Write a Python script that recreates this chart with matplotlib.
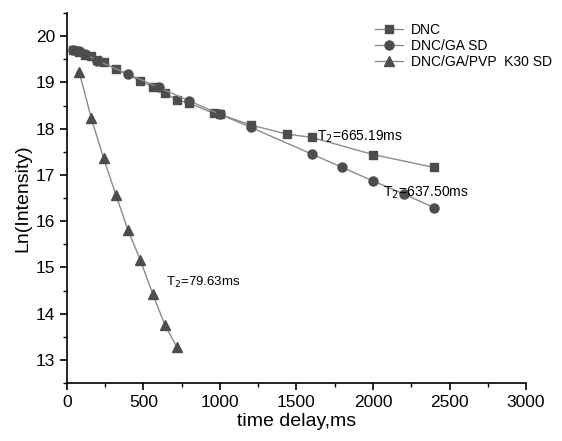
import matplotlib.pyplot as plt
import numpy as np

plt.rcParams['font.family'] = ['Liberation Sans', 'DejaVu Sans']

# DNC
t_dnc = [40, 80, 120, 160, 200, 240, 320, 480, 560, 640, 720, 800, 960, 1000, 1200, 1440, 1600, 2000, 2400]
y_dnc = [19.70, 19.65, 19.60, 19.57, 19.49, 19.43, 19.29, 19.03, 18.90, 18.77, 18.62, 18.55, 18.33, 18.31, 18.08, 17.88, 17.81, 17.44, 17.16]

# DNC/GA SD
t_ga = [40, 80, 120, 200, 400, 600, 800, 1000, 1200, 1600, 1800, 2000, 2200, 2400]
y_ga = [19.71, 19.67, 19.62, 19.47, 19.18, 18.89, 18.60, 18.31, 18.03, 17.45, 17.16, 16.87, 16.59, 16.29]

# DNC/GA/PVP K30 SD
t_pvp = [80, 160, 240, 320, 400, 480, 560, 640, 720]
y_pvp = [19.23, 18.22, 17.36, 16.57, 15.80, 15.16, 14.43, 13.76, 13.27]

fig = plt.figure(figsize=(5.62, 4.41), dpi=100)
ax = fig.add_axes([0.119, 0.1315, 0.817, 0.839])

mc = '#4d4d4d'
lc = '#8c8c8c'
ax.plot(t_dnc, y_dnc, marker='s', ms=6, color=lc, mfc=mc, mec=mc, lw=1, label='DNC')
ax.plot(t_ga, y_ga, marker='o', ms=6.5, color=lc, mfc=mc, mec=mc, lw=1, label='DNC/GA SD')
ax.plot(t_pvp, y_pvp, marker='^', ms=7, color=lc, mfc=mc, mec=mc, lw=1, label='DNC/GA/PVP  K30 SD')

ax.text(1635, 17.83, 'T$_2$=665.19ms', fontsize=10, va='center', ha='left')
ax.text(2065, 16.62, 'T$_2$=637.50ms', fontsize=10, va='center', ha='left')
ax.text(650, 14.68, 'T$_2$=79.63ms', fontsize=9.5, va='center', ha='left')

ax.set_xlim(0, 3000)
ax.set_ylim(12.5, 20.5)
ax.set_xticks(np.arange(0, 3001, 500))
ax.set_xticks(np.arange(250, 3000, 500), minor=True)
ax.set_yticks(np.arange(13, 21, 1))
ax.set_yticks(np.arange(12.5, 20.6, 1), minor=True)
ax.tick_params(axis='both', which='major', direction='out', length=5, width=1.2, labelsize=12.5)
ax.tick_params(axis='both', which='minor', direction='out', length=3, width=1)
ax.spines['top'].set_visible(False)
ax.spines['right'].set_visible(False)
ax.spines['left'].set_linewidth(1.2)
ax.spines['bottom'].set_linewidth(1.2)

ax.set_xlabel('time delay,ms', fontsize=14, labelpad=2)
ax.set_ylabel('Ln(Intensity)', fontsize=14, labelpad=3)

ax.legend(loc='upper right', bbox_to_anchor=(1.075, 0.995), frameon=False, fontsize=10,
          handlelength=2.0, handletextpad=0.6, labelspacing=0.15, borderaxespad=0.2)

plt.savefig('out.png', dpi=100)
